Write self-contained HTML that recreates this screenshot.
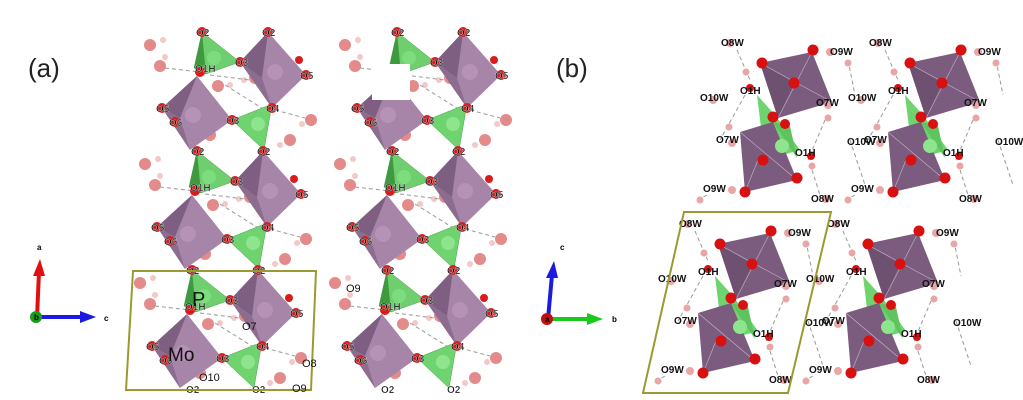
<!DOCTYPE html>
<html><head><meta charset="utf-8"><style>
html,body{margin:0;padding:0;background:#fff;}
svg{display:block}
text{font-family:"Liberation Sans",sans-serif;}
.l{font-size:10px;font-weight:bold;fill:#111;stroke:#fff;stroke-width:0.3px}
.w{font-size:10px;font-weight:bold;fill:#111}
.big{font-size:26px;fill:#222}
</style></head><body>
<svg width="1023" height="400" viewBox="0 0 1023 400" xmlns="http://www.w3.org/2000/svg">
<defs>
<g id="unit">
 <g fill="#e38a8a">
  <circle cx="150" cy="45" r="6"/><circle cx="163" cy="40" r="3" fill="#f3c8c8"/>
  <circle cx="160" cy="66" r="6"/><circle cx="165" cy="57" r="3" fill="#f3c8c8"/>
  <circle cx="218" cy="86" r="6"/><circle cx="230" cy="85" r="3" fill="#f3c8c8"/>
  <circle cx="255" cy="78" r="6"/><circle cx="244" cy="80" r="3" fill="#f3c8c8"/>
  <circle cx="311" cy="120" r="6"/><circle cx="302" cy="124" r="3" fill="#f3c8c8"/>
  <circle cx="290" cy="140" r="6"/><circle cx="280" cy="145" r="3" fill="#f3c8c8"/>
  <circle cx="210" cy="135" r="6"/>
 </g>
 <g stroke="#999" stroke-dasharray="4,3" stroke-width="1">
  <line x1="165" y1="68" x2="200" y2="72"/><line x1="210" y1="75" x2="250" y2="80"/>
  <line x1="225" y1="85" x2="265" y2="110"/><line x1="275" y1="110" x2="305" y2="118"/>
 </g>
 <polygon points="202,32 240,62 206,74 194,68" fill="#6fcf6f" stroke="#4f9f4f" stroke-width="0.5"/>
 <polygon points="202,32 206,74 194,68" fill="#3f9a3f"/>
 <circle cx="214" cy="58" r="7" fill="#7ddc7d"/>
 <polygon points="268,32 306,75 272,108 240,62" fill="#a685a8"/>
 <polygon points="268,32 240,62 262,78" fill="#7e5f82"/>
 <polygon points="240,62 272,108 262,78" fill="#8c6d90"/>
 <circle cx="275" cy="72" r="8" fill="#b592b6"/>
 <polygon points="197,76 232,120 190,150 162,108" fill="#a685a8"/>
 <polygon points="197,76 162,108 180,118" fill="#7e5f82"/>
 <polygon points="162,108 190,150 180,118" fill="#8c6d90"/>
 <circle cx="193" cy="115" r="8" fill="#b592b6"/>
 <polygon points="232,120 272,104 264,150" fill="#6fd46f" stroke="#4f9f4f" stroke-width="0.5"/>
 <circle cx="258" cy="124" r="7" fill="#8ee58e"/>
 <g fill="#d81c1c">
  <circle cx="202" cy="32" r="5"/><circle cx="268" cy="32" r="5"/><circle cx="240" cy="62" r="5"/>
  <circle cx="306" cy="75" r="5"/><circle cx="200" cy="72" r="5"/><circle cx="272" cy="108" r="5"/>
  <circle cx="162" cy="108" r="5"/><circle cx="175" cy="122" r="5"/><circle cx="232" cy="120" r="5"/>
  <circle cx="299" cy="60" r="4"/>
 </g>
</g>
</defs>

<text x="28" y="77" class="big">(a)</text>
<text x="556" y="77" class="big">(b)</text>

<use href="#unit"/>
<use href="#unit" transform="translate(-5,119)"/>
<use href="#unit" transform="translate(-10,238)"/>
<use href="#unit" transform="translate(195,0)"/>
<use href="#unit" transform="translate(190,119)"/>
<use href="#unit" transform="translate(185,238)"/>
<rect x="372" y="64" width="38" height="36" fill="#fff"/>

<g class="l">
<text x="196" y="36">O2</text><text x="262" y="36">O2</text><text x="235" y="66">O3</text><text x="195" y="72">O1H</text>
<text x="300" y="79">O5</text><text x="266" y="112">O4</text><text x="156" y="112">O5</text><text x="169" y="126">O6</text><text x="226" y="124">O3</text>
<text x="191" y="155">O2</text><text x="257" y="155">O2</text><text x="230" y="185">O3</text><text x="190" y="191">O1H</text>
<text x="295" y="198">O5</text><text x="261" y="231">O4</text><text x="151" y="231">O5</text><text x="164" y="245">O6</text><text x="221" y="243">O3</text>
<text x="186" y="274">O2</text><text x="252" y="274">O2</text><text x="225" y="304">O3</text><text x="185" y="310">O1H</text>
<text x="290" y="317">O5</text><text x="256" y="350">O4</text><text x="146" y="350">O5</text><text x="159" y="364">O6</text><text x="216" y="362">O3</text>
<text x="186" y="393">O2</text><text x="252" y="393">O2</text>
<text x="391" y="36">O2</text><text x="457" y="36">O2</text><text x="430" y="66">O3</text>
<text x="495" y="79">O5</text><text x="461" y="112">O4</text><text x="351" y="112">O5</text><text x="364" y="126">O6</text><text x="421" y="124">O3</text>
<text x="386" y="155">O2</text><text x="452" y="155">O2</text><text x="425" y="185">O3</text><text x="385" y="191">O1H</text>
<text x="490" y="198">O5</text><text x="456" y="231">O4</text><text x="346" y="231">O5</text><text x="359" y="245">O6</text><text x="416" y="243">O3</text>
<text x="381" y="274">O2</text><text x="447" y="274">O2</text><text x="420" y="304">O3</text><text x="380" y="310">O1H</text>
<text x="485" y="317">O5</text><text x="451" y="350">O4</text><text x="341" y="350">O5</text><text x="354" y="364">O6</text><text x="411" y="362">O3</text>
<text x="381" y="393">O2</text><text x="447" y="393">O2</text>
</g>
<polygon points="133,271 316,271 311,390 126,390" fill="none" stroke="#9a9a30" stroke-width="2"/>
<text x="192" y="306" style="font-size:20px;fill:#111">P</text>
<text x="168" y="361" style="font-size:19px;fill:#111">Mo</text>
<g style="font-size:11px;fill:#111">
<text x="242" y="330">O7</text><text x="199" y="381">O10</text><text x="302" y="367">O8</text><text x="292" y="392">O9</text><text x="346" y="292">O9</text>
</g>

<line x1="37" y1="317" x2="39" y2="272" stroke="#e01010" stroke-width="4"/>
<polygon points="33,276 45,276 40,259" fill="#e01010"/>
<line x1="37" y1="317" x2="84" y2="317" stroke="#1a1ae0" stroke-width="4"/>
<polygon points="80,311 80,323 96,317" fill="#1a1ae0"/>
<circle cx="36" cy="317" r="6" fill="#1a9a1a"/>
<text x="34" y="320" style="font-size:8px;font-weight:bold">b</text>
<text x="37" y="250" style="font-size:8px;font-weight:bold">a</text>
<text x="104" y="321" style="font-size:8px;font-weight:bold">c</text>

<defs>
<g id="blk">
 <g stroke="#999" stroke-dasharray="4,3">
  <line x1="737" y1="50" x2="750" y2="80"/><line x1="745" y1="95" x2="720" y2="140"/>
  <line x1="848" y1="60" x2="855" y2="95"/><line x1="825" y1="120" x2="808" y2="160"/>
  <line x1="812" y1="170" x2="820" y2="195"/><line x1="707" y1="195" x2="698" y2="200"/>
  <line x1="850" y1="140" x2="865" y2="185"/>
 </g>
 <polygon points="757,95 775,115 800,150 765,160" fill="#6fd46f"/>
 <polygon points="760,63 812,52 832,102 778,118" fill="#7b5c7e"/>
 <polygon points="760,63 778,118 794,83" fill="#6e5071"/>
 <polygon points="740,132 773,122 797,180 745,192" fill="#7b5c7e"/>
 <polygon points="773,122 790,126 797,158" fill="#5fc45f"/>
 <circle cx="782" cy="146" r="7" fill="#8ee58e"/>
 <g stroke="#c9b4cb" stroke-width="0.6"><line x1="760" y1="63" x2="832" y2="102"/><line x1="812" y1="52" x2="778" y2="118"/><line x1="740" y1="132" x2="797" y2="180"/><line x1="758" y1="160" x2="745" y2="192"/></g>
 <g fill="#d81010">
  <circle cx="762" cy="63" r="5.5"/><circle cx="813" cy="50" r="5.5"/><circle cx="794" cy="83" r="5.5"/><circle cx="773" cy="117" r="5.5"/>
  <circle cx="785" cy="124" r="5"/><circle cx="763" cy="160" r="5.5"/><circle cx="797" cy="178" r="5.5"/><circle cx="745" cy="192" r="5.5"/>
 </g>
 <g fill="#e8a6a6">
  <circle cx="730" cy="43" r="4"/><circle cx="830" cy="52" r="4"/><circle cx="848" cy="63" r="3.5"/>
  <circle cx="713" cy="100" r="4"/><circle cx="746" cy="72" r="3.5"/><circle cx="750" cy="88" r="4" fill="#d81010"/>
  <circle cx="828" cy="105" r="4"/><circle cx="828" cy="118" r="3.5"/><circle cx="729" cy="127" r="3.5"/><circle cx="732" cy="143" r="4"/>
  <circle cx="811" cy="156" r="4" fill="#d81010"/><circle cx="812" cy="166" r="3.5"/><circle cx="700" cy="200" r="3.5"/><circle cx="732" cy="190" r="4"/>
  <circle cx="826" cy="199" r="4"/>
 </g>
 <g class="w">
  <text x="721" y="46">O8W</text><text x="830" y="55">O9W</text><text x="740" y="94">O1H</text><text x="700" y="101">O10W</text>
  <text x="816" y="106">O7W</text><text x="716" y="143">O7W</text><text x="795" y="156">O1H</text><text x="703" y="192">O9W</text><text x="811" y="202">O8W</text>
 </g>
</g>
</defs>
<use href="#blk"/>
<use href="#blk" transform="translate(148,0)"/>
<use href="#blk" transform="translate(-42,181)"/>
<use href="#blk" transform="translate(106,181)"/>
<g class="w">
<text x="847" y="145">O10W</text><text x="995" y="145">O10W</text>
<text x="805" y="326">O10W</text><text x="953" y="326">O10W</text>
</g>
<polygon points="684,212 831,212 788,393 643,393" fill="none" stroke="#9a9a30" stroke-width="2"/>

<line x1="548" y1="319" x2="552" y2="275" stroke="#1a1ae0" stroke-width="4"/>
<polygon points="546,278 558,278 554,261" fill="#1a1ae0"/>
<line x1="548" y1="319" x2="590" y2="319" stroke="#1aca1a" stroke-width="4"/>
<polygon points="587,313 587,325 603,319" fill="#1aca1a"/>
<circle cx="547" cy="319" r="6" fill="#c01010"/>
<text x="545" y="322" style="font-size:8px;font-weight:bold">a</text>
<text x="560" y="250" style="font-size:8px;font-weight:bold">c</text>
<text x="612" y="322" style="font-size:8px;font-weight:bold">b</text>
</svg>
</body></html>
